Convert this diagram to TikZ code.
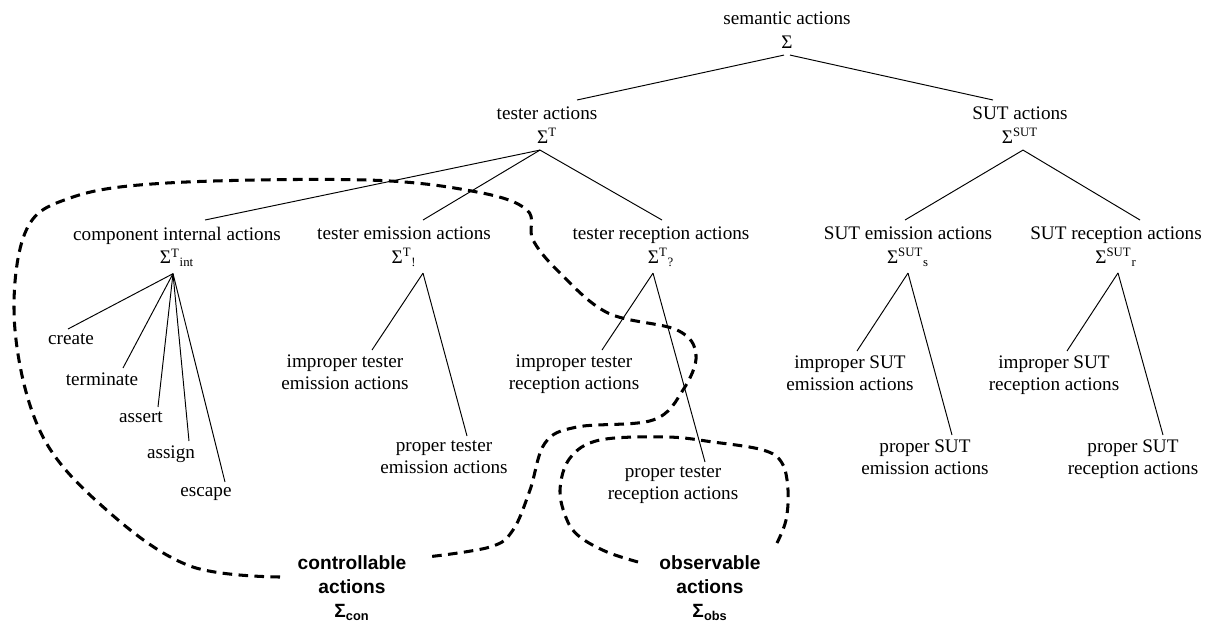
\documentclass[tikz,border=0pt]{standalone}
\usepackage{fontspec}
\setmainfont{Liberation Serif}
\setsansfont{Liberation Sans}
\usetikzlibrary{calc}

\tikzset{
  kind/.style={anchor=north, align=center, inner ysep=4pt, font=\fontsize{12}{15}\selectfont},
  leafnode/.style={anchor=north, align=center, inner ysep=3pt, font=\fontsize{12}{13.8}\selectfont},
  hulllabel/.style={align=center, font=\fontsize{12}{15}\selectfont\sffamily\bfseries},
  branch/.style={line width=0.6pt},
  hull/.style={line width=1.9pt, dash pattern=on 6pt off 4pt}
}

\begin{document}
\begin{tikzpicture}[x=0.626pt,y=-0.626pt]
\useasboundingbox (0,0) rectangle (1213,621);

% action sets
\node[kind] (sem) at (787,5) {semantic actions\\Σ};
\node[kind] (tst) at (547,100) {tester actions\\Σ\textsuperscript{T}};
\node[kind] (sut) at (1020,100) {SUT actions\\Σ\textsuperscript{SUT}};
\node[kind] (cia) at (177,220) {component internal actions\\Σ\textsuperscript{T}\textsubscript{int}};
\node[kind] (tea) at (404,220) {tester emission actions\\Σ\textsuperscript{T}\textsubscript{!}};
\node[kind] (tra) at (661,220) {tester reception actions\\Σ\textsuperscript{T}\textsubscript{?}};
\node[kind] (sea) at (908,220) {SUT emission actions\\Σ\textsuperscript{SUT}\textsubscript{s}};
\node[kind] (sra) at (1116,220) {SUT reception actions\\Σ\textsuperscript{SUT}\textsubscript{r}};

% leaves
\node[leafnode] (create) at (71,329) {create};
\node[leafnode] (terminate) at (102,368) {terminate};
\node[leafnode] (assert) at (141,407) {assert};
\node[leafnode] (assign) at (171,441) {assign};
\node[leafnode] (escape) at (206,482) {escape};
\node[leafnode] (ite) at (345,350) {improper tester\\emission actions};
\node[leafnode] (pte) at (444,436) {proper tester\\emission actions};
\node[leafnode] (itr) at (574,350) {improper tester\\reception actions};
\node[leafnode] (ptr) at (673,462) {proper tester\\reception actions};
\node[leafnode] (ise) at (850,351) {improper SUT\\emission actions};
\node[leafnode] (pse) at (925,435) {proper SUT\\emission actions};
\node[leafnode] (isr) at (1054,351) {improper SUT\\reception actions};
\node[leafnode] (psr) at (1133,435) {proper SUT\\reception actions};

\node[hulllabel] (con) at (352,588) {controllable\\actions\\Σ\textsubscript{con}};
\node[hulllabel] (obs) at (710,588) {observable\\actions\\Σ\textsubscript{obs}};

% tree lines
\draw[branch] ($(sem.south)+(-3,0)$) -- ($(tst.north)+(30,0)$);
\draw[branch] ($(sem.south)+(3,0)$) -- ($(sut.north)+(-27,0)$);
\foreach \n/\dx in {cia/28,tea/19,tra/1}
  \draw[branch] ($(tst.south)+(-7,0)$) -- ($(\n.north)+(\dx,0)$);
\foreach \n/\dx in {sea/-3,sra/24}
  \draw[branch] ($(sut.south)+(3,0)$) -- ($(\n.north)+(\dx,0)$);
\foreach \n/\dx in {create/-3,terminate/21,assert/17,assign/18,escape/19}
  \draw[branch] ($(cia.south)+(-4,0)$) -- ($(\n.north)+(\dx,0)$);
\foreach \n/\dx in {ite/27,pte/23}
  \draw[branch] ($(tea.south)+(19,0)$) -- ($(\n.north)+(\dx,0)$);
\foreach \n/\dx in {itr/28,ptr/32}
  \draw[branch] ($(tra.south)+(-8,0)$) -- ($(\n.north)+(\dx,0)$);
\foreach \n/\dx in {ise/7,pse/27}
  \draw[branch] ($(sea.south)+(0,0)$) -- ($(\n.north)+(\dx,0)$);
\foreach \n/\dx in {isr/13,psr/30}
  \draw[branch] ($(sra.south)+(2,0)$) -- ($(\n.north)+(\dx,0)$);

% controllable and observable regions
\draw[hull] plot[smooth, tension=0.6] coordinates {(280,577) (190,566) (110,513) (43,437)
  (15,330) (25,233) (70,198) (167,183) (367,180) (477,192) (527,210) (533,240) (560,273)
  (608,313) (677,330) (696,355) (683,390) (653,420) (577,427) (545,443) (530,490)
  (513,530) (490,547) (427,557)};
\draw[hull] plot[smooth, tension=0.6] coordinates {(638,562) (607,552) (580,537) (567,520)
  (560,490) (570,458) (600,440) (667,437) (713,442) (763,450) (782,463) (788,490)
  (786,520) (777,543)};
\end{tikzpicture}
\end{document}
